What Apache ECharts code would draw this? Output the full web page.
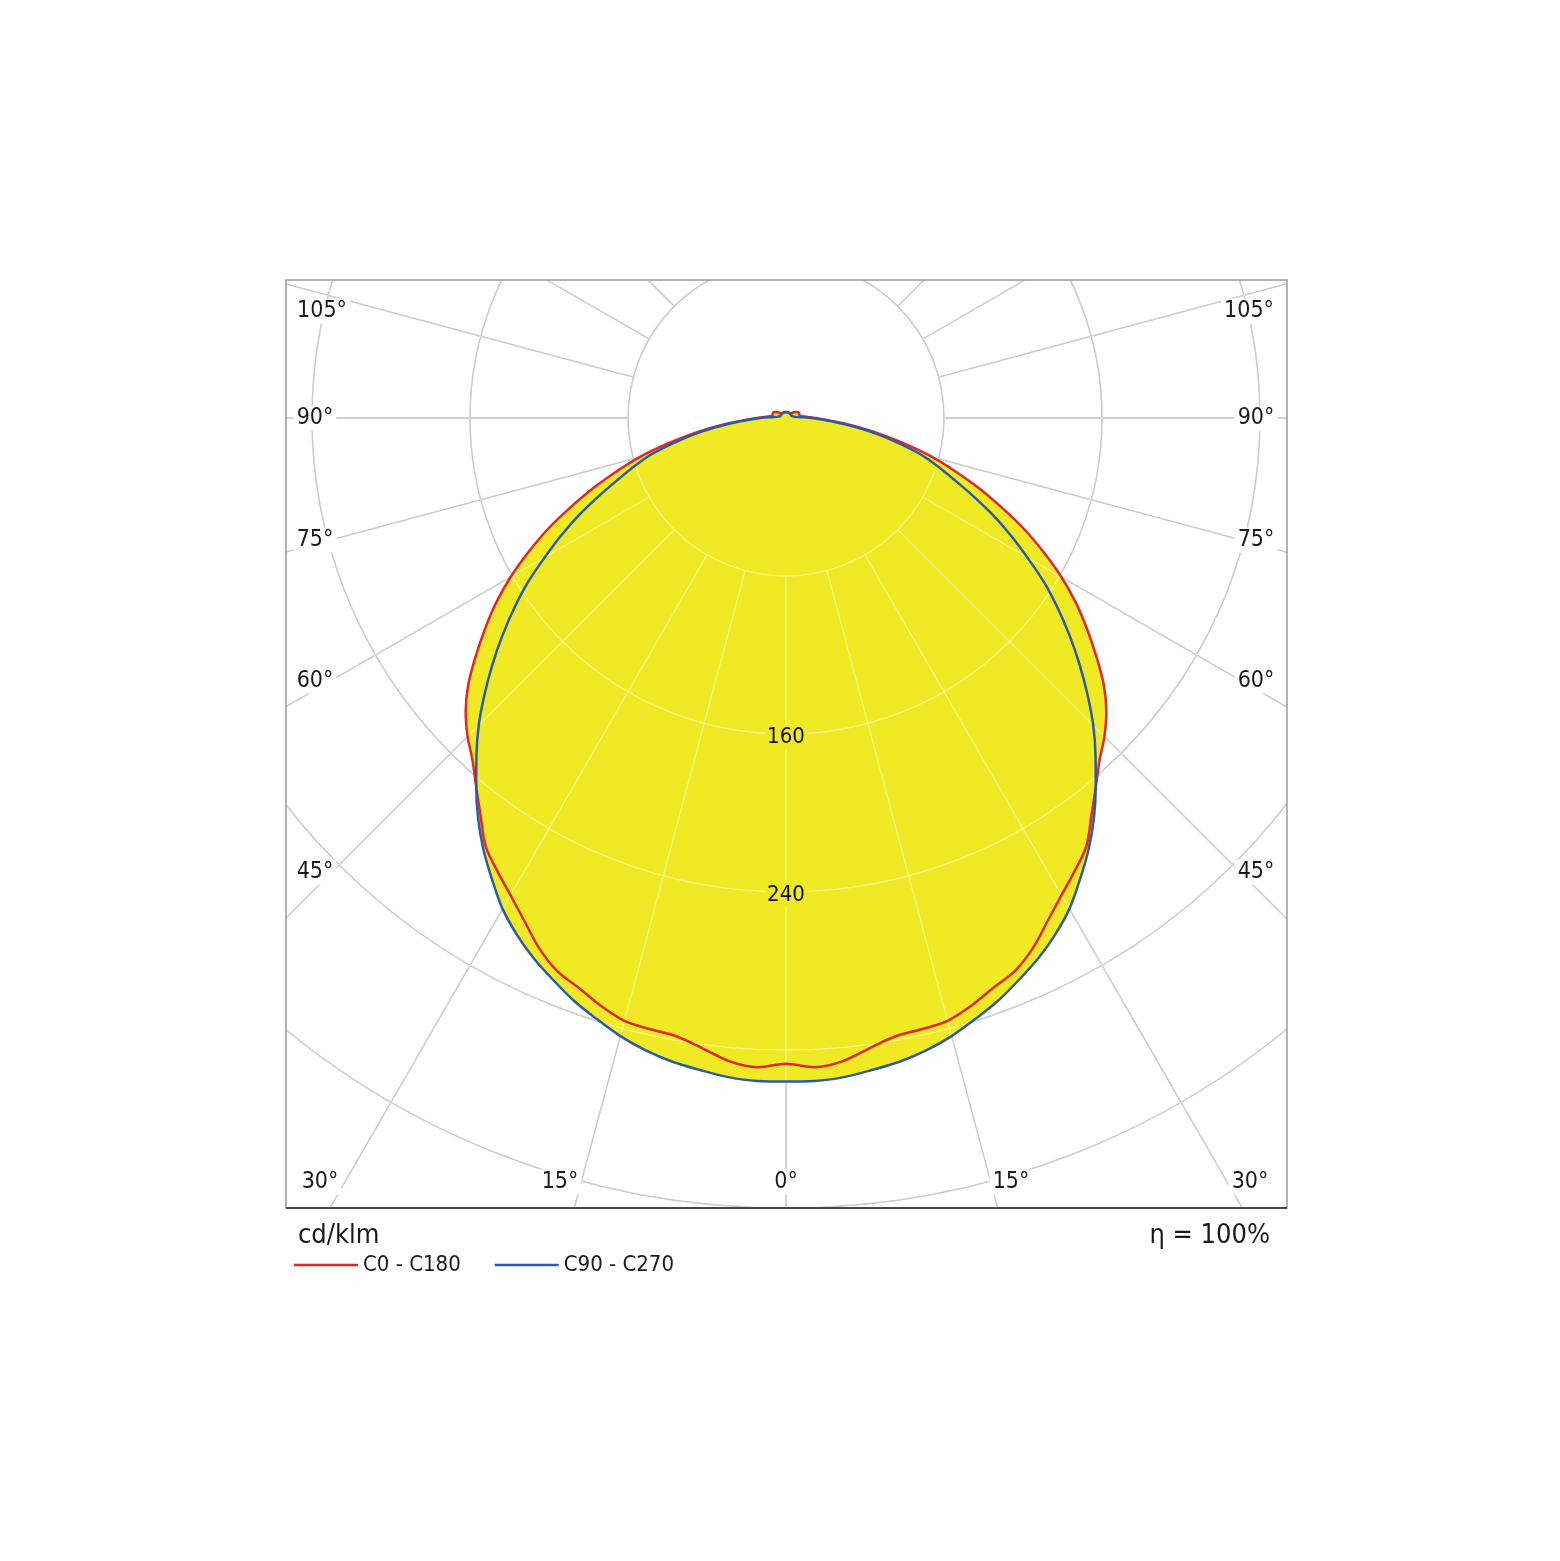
<!DOCTYPE html>
<html>
<head>
    <meta charset="utf-8">
    <title>cd/klm</title>
    <script src="https://cdn.jsdelivr.net/npm/echarts@6/dist/echarts.min.js"></script>
    <style>
        html, body { margin: 0; padding: 0; background: #fff; }
        #main { width: 1560px; height: 1561px; }
    </style>
</head>
<body>
<div id="main"></div>
<script type="text/javascript">

    // gamma angles (deg from nadir), same for both planes
    var gamma = [0, 2.5, 5, 7.5, 10, 12.5, 15, 17.5, 20, 22.5, 25, 27.5, 30, 32.5, 35, 37.5, 40, 42.5, 45, 47.5,
        50, 52.5, 55, 57.5, 60, 62.5, 65, 67.5, 70, 72.5, 75, 77.5, 80, 82.5, 85, 87.5, 90,
        95, 100, 105, 110, 115, 120, 125, 130, 135, 140, 145, 150, 155, 160, 165, 170, 175, 180];

    // C0 - C180 (cd/klm)
    var c0 = [327, 329, 327, 322, 318, 317, 316, 312, 307, 303, 296, 287, 279, 272, 265, 254, 244, 235, 228, 220,
        210, 198, 186, 174, 161, 147, 133, 118, 104, 90, 77, 63, 50, 38, 28, 20, 15,
        9, 7, 7, 7, 7, 6, 5, 4, 3, 3, 3, 3, 3, 3, 3, 3, 3, 3];

    // C90 - C270 (cd/klm)
    var c90 = [336, 336, 335, 333, 331, 328, 324, 319, 314, 308, 302, 295, 287, 277, 267, 256, 244, 232, 220, 207,
        194, 181, 168, 155, 141, 128, 115, 102, 90, 80, 70, 58, 47, 36, 26, 18, 13,
        6, 4, 3.5, 3, 3, 3, 3, 3, 3, 3, 3, 3, 3, 3, 3, 3, 3, 3];

    var radiusLabels = [160, 240];
    var angleLabels = ['0°', '15°', '30°', '45°', '60°', '75°', '90°', '105°'];

    var FONT = "'DejaVu Sans Condensed', 'DejaVu Sans', sans-serif";
    var YELLOW = '#efea24';

    // closed curve: C180 / C270 half on the left, C0 / C90 half on the right
    function fullCurve(vals) {
        var pts = [];
        for (var i = gamma.length - 1; i >= 0; i--) pts.push([vals[i], gamma[i]]);
        for (var j = 1; j < gamma.length; j++) pts.push([vals[j], 360 - gamma[j]]);
        return pts;
    }

    var myChart = echarts.init(document.getElementById('main'));

    var center = [786, 418];
    var rOuter = 948;   // 480 cd/klm
    var rInner = 158;   // 80 cd/klm
    var SMOOTH = 0.35;

    function gridPolar(color, width, z) {
        return {
            angle: {
                type: 'value', min: 0, max: 360, interval: 15, startAngle: 270, clockwise: true, z: z,
                axisLine: {show: false}, axisTick: {show: false}, axisLabel: {show: false},
                splitLine: {show: true, lineStyle: {color: color, width: width}}
            },
            radius: {
                type: 'value', min: 80, max: 480, interval: 80, z: z,
                axisLine: {show: false}, axisTick: {show: false}, axisLabel: {show: false},
                splitLine: {show: true, lineStyle: {color: color, width: width}}
            }
        };
    }

    // grey grid under the fill, pale grid over it
    var g0 = gridPolar('#a3a3a3', 1.3, 0);
    var g1 = gridPolar('rgba(255,255,255,0.45)', 1.3, 2);

    // tick label layout (pixel centres along the frame)
    var leftPos = [[786, 1182], [560, 1182], [320, 1182], [315, 872], [315, 681], [315, 540], [315, 418], [322, 311]];
    var rightPos = [null, [1011, 1182], [1250, 1182], [1256, 872], [1256, 681], [1256, 540], [1256, 418], [1249, 311]];

    var graphics = [
        {type: 'rect', z: 100, silent: true, shape: {x: 0, y: 0, width: 1560, height: 280}, style: {fill: '#fff'}},
        {type: 'rect', z: 100, silent: true, shape: {x: 0, y: 1208, width: 1560, height: 353}, style: {fill: '#fff'}},
        {type: 'rect', z: 100, silent: true, shape: {x: 0, y: 280, width: 286, height: 928}, style: {fill: '#fff'}},
        {type: 'rect', z: 100, silent: true, shape: {x: 1287, y: 280, width: 273, height: 928}, style: {fill: '#fff'}},
        {type: 'rect', z: 101, silent: true, shape: {x: 286, y: 280, width: 1001, height: 928},
            style: {fill: 'none', stroke: '#9a9a9a', lineWidth: 1.5}},
        {type: 'line', z: 101, silent: true, shape: {x1: 286, y1: 1208, x2: 1287, y2: 1208},
            style: {stroke: '#4a4a4a', lineWidth: 2}},
        {type: 'text', z: 102, silent: true, style: {text: 'cd/klm', x: 298, y: 1236, verticalAlign: 'middle',
            font: '27px ' + FONT, fill: '#1a1a1a'}},
        {type: 'text', z: 102, silent: true, style: {text: 'η = 100%', x: 1270, y: 1236, align: 'right',
            verticalAlign: 'middle', font: '27px ' + FONT, fill: '#1a1a1a'}}
    ];

    angleLabels.forEach(function (txt, i) {
        [leftPos[i], rightPos[i]].forEach(function (p) {
            if (!p) return;
            graphics.push({
                type: 'text', z: 103, silent: true,
                style: {text: txt, x: p[0], y: p[1], align: 'center', verticalAlign: 'middle',
                    font: '23px ' + FONT, fill: '#1a1a1a', backgroundColor: '#fff', padding: [1, 3]}
            });
        });
    });

    var hidden = {show: false};

    myChart.setOption({
        animation: false,
        backgroundColor: '#fff',
        polar: [
            {center: center, radius: [rInner, rOuter]},
            {center: center, radius: [rInner, rOuter]},
            {center: center, radius: [0, rOuter]}
        ],
        angleAxis: [
            Object.assign({polarIndex: 0}, g0.angle),
            Object.assign({polarIndex: 1}, g1.angle),
            {polarIndex: 2, type: 'value', min: 0, max: 360, startAngle: 270, clockwise: true,
                axisLine: hidden, axisTick: hidden, axisLabel: hidden, splitLine: hidden}
        ],
        radiusAxis: [
            Object.assign({polarIndex: 0}, g0.radius),
            Object.assign({polarIndex: 1}, g1.radius),
            {polarIndex: 2, type: 'value', min: 0, max: 480, interval: 80,
                axisLine: hidden, axisTick: hidden, axisLabel: hidden, splitLine: hidden}
        ],
        legend: {
            data: ['C0 - C180', 'C90 - C270'],
            left: 289, top: 1249, z: 200,
            icon: 'rect', itemWidth: 64, itemHeight: 2.5, itemGap: 34,
            textStyle: {fontSize: 22, color: '#1a1a1a', fontFamily: FONT}
        },
        graphic: {elements: graphics},
        series: [
            {
                name: 'fill0', type: 'line', coordinateSystem: 'polar', polarIndex: 2, z: 1,
                data: fullCurve(c0), symbol: 'none', silent: true, smooth: SMOOTH,
                lineStyle: {width: 0}, areaStyle: {color: YELLOW, opacity: 1}
            },
            {
                name: 'fill90', type: 'line', coordinateSystem: 'polar', polarIndex: 2, z: 1,
                data: fullCurve(c90), symbol: 'none', silent: true, smooth: SMOOTH,
                lineStyle: {width: 0}, areaStyle: {color: YELLOW, opacity: 1}
            },
            {
                name: 'C0 - C180', type: 'line', coordinateSystem: 'polar', polarIndex: 2, z: 3,
                data: fullCurve(c0), symbol: 'none', color: '#e3262b', smooth: SMOOTH,
                lineStyle: {width: 2.5, color: '#e3262b'}
            },
            {
                name: 'C90 - C270', type: 'line', coordinateSystem: 'polar', polarIndex: 2, z: 4,
                data: fullCurve(c90), symbol: 'none', color: '#2b5ba8', smooth: SMOOTH,
                lineStyle: {width: 2.5, color: '#2b5ba8'}
            },
            {
                name: 'radius labels', type: 'scatter', coordinateSystem: 'polar', polarIndex: 2, z: 5,
                symbolSize: 0, silent: true,
                itemStyle: {opacity: 1},
                data: radiusLabels.map(function (v) { return [v, 0]; }),
                label: {
                    show: true, position: 'inside', offset: [0, 3], color: '#111', fontSize: 22, fontFamily: FONT,
                    backgroundColor: YELLOW, padding: [1, 2],
                    formatter: function (p) { return p.value[0]; }
                }
            }
        ]
    });
</script>
</body>
</html>
